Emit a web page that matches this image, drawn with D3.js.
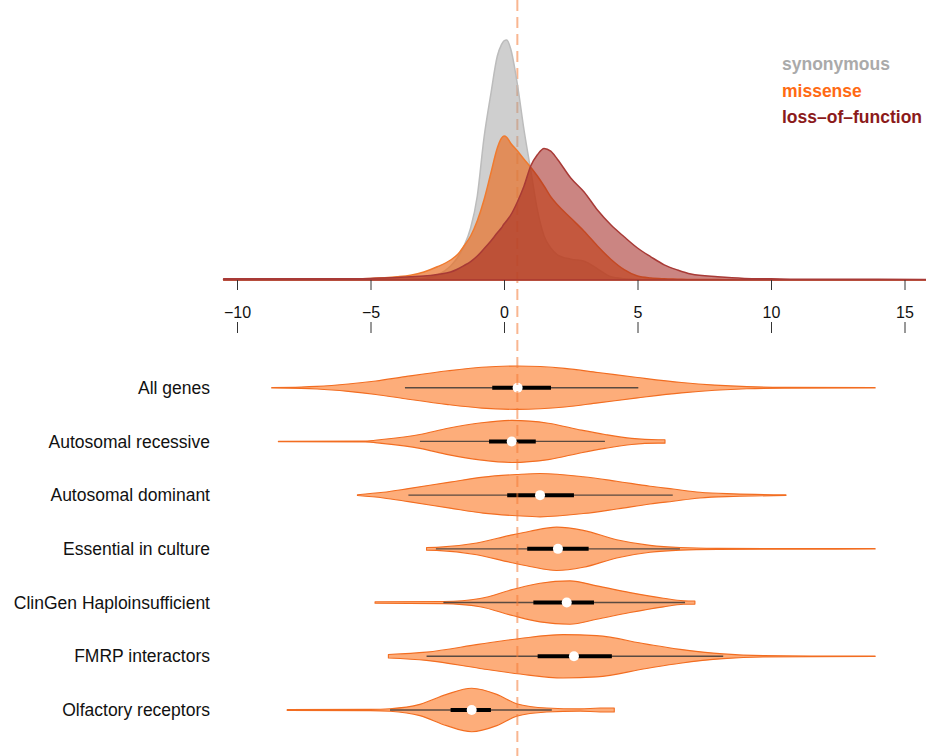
<!DOCTYPE html>
<html>
<head>
<meta charset="utf-8">
<script src="https://cdn.jsdelivr.net/npm/d3@7"></script>
<style>
  body { margin: 0; background: #fff; }
  svg { display: block; font-family: "Liberation Sans", Arial, Helvetica, sans-serif; }
</style>
</head>
<body>
<svg id="chart" width="926" height="756"></svg>
<script>
// ---- density curves (upper panel) ----
const gridX = [-10.5, -9, -8, -7, -6, -5, -4, -3.5, -3, -2.5, -2, -1.75, -1.5, -1.25, -1, -0.75, -0.5, -0.25, -0.1,
  0, 0.1, 0.25, 0.5, 0.75, 1, 1.25, 1.5, 1.75, 2, 2.5, 3, 3.5, 4, 4.5, 5, 5.5, 6, 6.5, 7, 8, 9, 10, 11, 12, 13, 14, 15.8];

const synonymous = [0, 0, 0, 0, 0, 0, 0.001, 0.002, 0.004, 0.012, 0.035, 0.055, 0.085, 0.130, 0.210, 0.355, 0.462, 0.560, 0.588,
  0.598, 0.600, 0.578, 0.490, 0.375, 0.275, 0.175, 0.110, 0.080, 0.063, 0.052, 0.047, 0.028, 0.008, 0.003, 0.001,
  0, 0, 0, 0, 0, 0, 0, 0, 0, 0, 0, 0];

const missense = [0.001, 0.002, 0.002, 0.002, 0.003, 0.004, 0.008, 0.012, 0.020, 0.033, 0.050, 0.063, 0.085, 0.110, 0.148, 0.200, 0.265, 0.330, 0.354,
  0.360, 0.357, 0.342, 0.323, 0.302, 0.282, 0.260, 0.235, 0.208, 0.188, 0.155, 0.122, 0.085, 0.052, 0.026, 0.010,
  0.005, 0.003, 0.002, 0.001, 0.001, 0, 0, 0, 0, 0, 0, 0];

const lossOfFunction = [0.003, 0.003, 0.003, 0.003, 0.003, 0.004, 0.006, 0.008, 0.010, 0.014, 0.020, 0.027, 0.036, 0.046, 0.060, 0.078, 0.097, 0.118, 0.130,
  0.140, 0.148, 0.162, 0.195, 0.235, 0.285, 0.313, 0.329, 0.322, 0.302, 0.255, 0.220, 0.175, 0.138, 0.108, 0.080,
  0.058, 0.038, 0.025, 0.015, 0.008, 0.004, 0.003, 0.002, 0.002, 0.002, 0.002, 0.001];

const seriesNames = ["synonymous", "missense", "loss–of–function"];
const seriesFill = ["rgba(160,160,160,0.5)", "rgba(232,112,40,0.7)", "rgba(160,32,28,0.55)"];
const seriesStroke = ["#bcbcbc", "#f07a2e", "#a83a36"];
const legendColor = ["#aaaaaa", "#ff6a13", "#8b1a1a"];

const xTicks = [-10, -5, 0, 5, 10, 15];
const referenceValue = 0.5;

// ---- violins (lower panel) ----
const categories = ["All genes", "Autosomal recessive", "Autosomal dominant", "Essential in culture",
  "ClinGen Haploinsufficient", "FMRP interactors", "Olfactory receptors"];

// [value, relative density]
const violinAllGenes = [[-8.7, 0.01], [-7.6, 0.03], [-7.0, 0.06], [-5.83, 0.17], [-4.8, 0.31], [-3.7, 0.51], [-2.1, 0.78], [-0.84, 0.94],
  [0.5, 1.0], [2.28, 0.89], [3.52, 0.70], [5.0, 0.47], [6.65, 0.24], [7.9, 0.12], [9.1, 0.05], [10.5, 0.02], [13.9, 0.01]];
const violinRecessive = [[-8.45, 0.01], [-5.2, 0.02], [-4.58, 0.09], [-3.15, 0.32], [-2.1, 0.61], [-0.84, 0.86], [0.29, 0.97],
  [1.66, 0.84], [2.9, 0.52], [3.78, 0.32], [4.78, 0.14], [5.77, 0.08], [6.03, 0.08]];
const violinDominant = [[-5.49, 0.02], [-4.52, 0.13], [-3.58, 0.30], [-2.02, 0.60], [-0.78, 0.83], [0.47, 0.95], [1.35, 1.0],
  [2.97, 0.85], [4.22, 0.64], [5.47, 0.41], [6.34, 0.28], [7.34, 0.13], [8.59, 0.06], [10.56, 0.02]];
const violinEssential = [[-2.9, 0.06], [-2.52, 0.07], [-1.02, 0.27], [0.22, 0.62], [0.97, 0.81], [1.97, 1.0], [2.97, 0.85],
  [4.22, 0.42], [5.47, 0.16], [6.6, 0.06], [8.0, 0.025], [10.0, 0.015], [13.9, 0.01]];
const violinClinGen = [[-4.83, 0.03], [-2.27, 0.05], [-0.9, 0.19], [0.35, 0.61], [1.35, 0.89], [2.47, 1.0], [3.47, 0.77],
  [4.72, 0.46], [5.97, 0.20], [6.72, 0.08], [7.15, 0.07]];
const violinFMRP = [[-4.33, 0.08], [-2.9, 0.19], [-0.9, 0.56], [0.6, 0.82], [2.22, 1.0], [3.47, 0.95], [5.34, 0.56],
  [6.6, 0.32], [8.21, 0.11], [9.71, 0.03], [11.5, 0.015], [13.9, 0.01]];
const violinOlfactory = [[-8.12, 0.02], [-5.0, 0.03], [-4.27, 0.06], [-3.15, 0.26], [-2.15, 0.72], [-1.21, 1.0], [-0.27, 0.72],
  [0.47, 0.29], [1.6, 0.09], [2.85, 0.05], [3.6, 0.09], [4.13, 0.09]];
const violinShapes = [violinAllGenes, violinRecessive, violinDominant, violinEssential, violinClinGen, violinFMRP, violinOlfactory];

// box-plot summaries
const whiskerLow  = [-3.71, -3.15, -3.58, -2.55, -2.27, -2.90, -4.27];
const quartile1   = [-0.44, -0.56,  0.12,  0.87,  1.10,  1.26, -2.00];
const medians     = [ 0.51,  0.29,  1.35,  2.02,  2.35,  2.62, -1.21];
const quartile3   = [ 1.76,  1.19,  2.62,  3.17,  3.37,  4.04, -0.49];
const whiskerHigh = [ 5.03,  3.78,  6.32,  6.59,  6.78,  8.21,  1.79];

// ---- scales ----
const svg = d3.select("#chart");
const x = d3.scaleLinear().domain([-10, 15]).range([237, 904.5]);
const yDensity = d3.scaleLinear().domain([0, 0.6]).range([280, 40]);
const row = d3.scalePoint().domain(categories).range([387.7, 710]);
const halfWidth = d3.scaleLinear().domain([0, 1]).range([0, 21.7]);

// dashed reference line behind the density curves
const refColor = "rgba(244,122,52,0.55)";
svg.append("line")
  .attr("x1", x(referenceValue)).attr("x2", x(referenceValue))
  .attr("y1", 0).attr("y2", 300)
  .attr("stroke", refColor).attr("stroke-width", 2).attr("stroke-dasharray", "11,6");

// density areas
const densityArea = d3.area()
  .x(d => x(d[0]))
  .y0(yDensity(0))
  .y1(d => yDensity(d[1]))
  .curve(d3.curveMonotoneX);

[synonymous, missense, lossOfFunction].forEach((vals, i) => {
  const pts = gridX.map((g, j) => [g, vals[j]]);
  svg.append("path")
    .datum(pts)
    .attr("d", d => densityArea(d) + "Z")
    .attr("fill", seriesFill[i])
    .attr("stroke", seriesStroke[i])
    .attr("stroke-width", 1.5)
    .attr("stroke-linejoin", "round");
});

// legend
seriesNames.forEach((name, i) => {
  svg.append("text")
    .attr("x", 782).attr("y", 70 + i * 26.5)
    .attr("font-size", 17.5).attr("font-weight", "bold")
    .attr("fill", legendColor[i])
    .text(name);
});

// axis with labels under the density baseline
const axisMain = svg.append("g")
  .attr("transform", "translate(0,280)")
  .call(d3.axisBottom(x).tickValues(xTicks).tickSize(10).tickPadding(17));
axisMain.select(".domain").remove();
axisMain.selectAll(".tick line").attr("stroke", "#333");
axisMain.selectAll(".tick text")
  .attr("font-size", 16).attr("font-family", "\"Liberation Sans\", Arial, Helvetica, sans-serif").attr("fill", "#111");

// second row of ticks above the violins
const axisLower = svg.append("g")
  .attr("transform", "translate(0,322)")
  .call(d3.axisBottom(x).tickValues(xTicks).tickSize(11).tickFormat(""));
axisLower.select(".domain").remove();
axisLower.selectAll(".tick line").attr("stroke", "#333");

// violins
categories.forEach((cat, i) => {
  const cy = row(cat);
  const violinArea = d3.area()
    .x(d => x(d[0]))
    .y0(d => cy - halfWidth(d[1]))
    .y1(d => cy + halfWidth(d[1]))
    .curve(d3.curveMonotoneX);

  const g = svg.append("g");
  g.append("path")
    .datum(violinShapes[i])
    .attr("d", d => violinArea(d) + "Z")
    .attr("fill", "#fdad7a")
    .attr("stroke", "#f26d21")
    .attr("stroke-width", 1.1)
    .attr("stroke-linejoin", "round");

  // whisker
  g.append("line")
    .attr("x1", x(whiskerLow[i])).attr("x2", x(whiskerHigh[i]))
    .attr("y1", cy).attr("y2", cy)
    .attr("stroke", "#5a4a40").attr("stroke-width", 1.4);
  // interquartile bar
  g.append("line")
    .attr("x1", x(quartile1[i])).attr("x2", x(quartile3[i]))
    .attr("y1", cy).attr("y2", cy)
    .attr("stroke", "#000").attr("stroke-width", 4);
  // median
  g.append("circle")
    .attr("cx", x(medians[i])).attr("cy", cy).attr("r", 5)
    .attr("fill", "#fff");

  // category label
  svg.append("text")
    .attr("x", 210).attr("y", cy)
    .attr("dy", "0.35em")
    .attr("text-anchor", "end")
    .attr("font-size", 17.5)
    .attr("fill", "#111")
    .text(cat);
});

// dashed reference line across the violin panel
svg.append("line")
  .attr("x1", x(referenceValue)).attr("x2", x(referenceValue))
  .attr("y1", 300).attr("y2", 756)
  .attr("stroke", refColor).attr("stroke-width", 2).attr("stroke-dasharray", "11,6")
  .attr("stroke-dashoffset", 300 % 17);
</script>
</body>
</html>
